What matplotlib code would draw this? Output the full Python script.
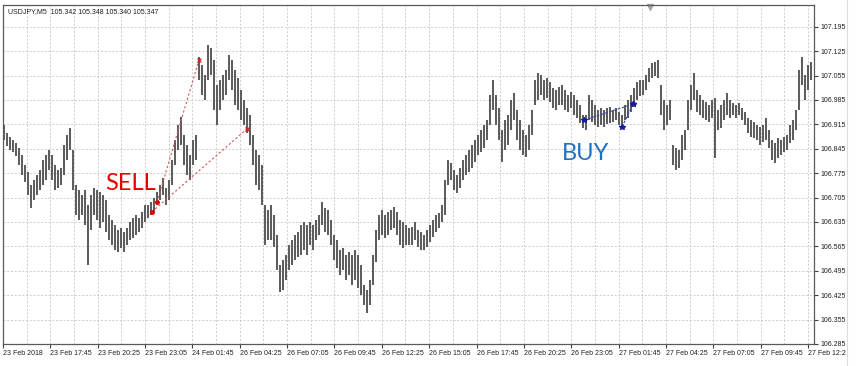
"""USDJPY M5 bar chart with two SELL and two BUY trades marked, MT4 style."""

import matplotlib
matplotlib.use("Agg")
import matplotlib.pyplot as plt
from matplotlib.transforms import Bbox
import numpy as np

# ════════════════════════════════════════════════════════════════════════════
# DATA (one drawn bar per ~10 min)
# ════════════════════════════════════════════════════════════════════════════

highs = [
    106.913, 106.890, 106.879, 106.870, 106.861, 106.847, 106.827, 106.798, 106.778, 106.741,
    106.755, 106.770, 106.784, 106.813, 106.827, 106.841, 106.827, 106.798, 106.784, 106.790,
    106.856, 106.884, 106.905, 106.841, 106.741, 106.727, 106.712, 106.727, 106.684, 106.712,
    106.732, 106.727, 106.721, 106.712, 106.698, 106.655, 106.641, 106.626, 106.612, 106.618,
    106.606, 106.618, 106.635, 106.646, 106.655, 106.646, 106.664, 106.684, 106.684, 106.692,
    106.704, 106.721, 106.741, 106.761, 106.732, 106.755, 106.813, 106.870, 106.913, 106.936,
    106.884, 106.856, 106.827, 106.870, 106.884, 107.108, 107.085, 107.057, 107.143, 107.134,
    107.100, 107.028, 107.042, 107.057, 107.071, 107.114, 107.100, 107.071, 107.048, 107.013,
    106.985, 106.962, 106.942, 106.884, 106.841, 106.827, 106.798, 106.684, 106.669, 106.684,
    106.655, 106.598, 106.512, 106.526, 106.540, 106.569, 106.583, 106.598, 106.606, 106.626,
    106.635, 106.626, 106.635, 106.626, 106.641, 106.655, 106.692, 106.675, 106.669, 106.641,
    106.598, 106.583, 106.555, 106.560, 106.540, 106.549, 106.540, 106.555, 106.540, 106.512,
    106.454, 106.440, 106.469, 106.540, 106.612, 106.655, 106.669, 106.655, 106.664, 106.669,
    106.678, 106.664, 106.641, 106.635, 106.626, 106.618, 106.621, 106.635, 106.612, 106.606,
    106.598, 106.612, 106.626, 106.641, 106.655, 106.661, 106.684, 106.755, 106.813, 106.804,
    106.784, 106.770, 106.790, 106.813, 106.827, 106.841, 106.856, 106.870, 106.884, 106.899,
    106.913, 106.927, 106.999, 107.042, 106.999, 106.962, 106.899, 106.927, 106.942, 106.985,
    107.005, 106.956, 106.927, 106.899, 106.884, 106.913, 106.956, 107.042, 107.062, 107.057,
    107.042, 107.048, 107.036, 107.019, 107.013, 107.022, 107.028, 107.013, 106.999, 107.008,
    106.999, 106.985, 106.970, 106.942, 106.942, 106.999, 106.985, 106.970, 106.956, 106.962,
    106.956, 106.962, 106.965, 106.956, 106.962, 106.950, 106.942, 106.970, 106.985, 106.999,
    107.019, 107.036, 107.042, 107.042, 107.057, 107.077, 107.091, 107.094, 107.100, 107.028,
    106.985, 106.970, 106.985, 106.856, 106.847, 106.841, 106.884, 106.899, 106.985, 107.028,
    107.062, 107.013, 106.999, 106.985, 106.979, 106.970, 106.985, 106.991, 106.956, 106.970,
    106.985, 107.005, 106.985, 106.976, 106.970, 106.976, 106.962, 106.950, 106.933, 106.927,
    106.922, 106.913, 106.907, 106.913, 106.933, 106.899, 106.870, 106.861, 106.876, 106.870,
    106.879, 106.884, 106.913, 106.927, 106.956, 107.071, 107.108, 107.057, 107.085, 107.094,
]

lows = [
    106.870, 106.853, 106.841, 106.836, 106.824, 106.798, 106.770, 106.750, 106.712, 106.675,
    106.698, 106.712, 106.727, 106.741, 106.755, 106.784, 106.755, 106.727, 106.732, 106.741,
    106.770, 106.813, 106.841, 106.727, 106.655, 106.641, 106.655, 106.626, 106.512, 106.612,
    106.655, 106.641, 106.618, 106.635, 106.606, 106.583, 106.569, 106.555, 106.549, 106.560,
    106.549, 106.569, 106.583, 106.589, 106.598, 106.606, 106.618, 106.635, 106.646, 106.655,
    106.664, 106.684, 106.698, 106.712, 106.684, 106.698, 106.741, 106.798, 106.841, 106.856,
    106.798, 106.770, 106.755, 106.798, 106.813, 107.042, 106.999, 106.985, 107.042, 107.057,
    106.956, 106.913, 106.956, 106.985, 106.999, 107.042, 107.013, 106.970, 106.956, 106.927,
    106.913, 106.890, 106.856, 106.798, 106.741, 106.727, 106.684, 106.569, 106.583, 106.583,
    106.563, 106.497, 106.434, 106.440, 106.469, 106.497, 106.512, 106.526, 106.535, 106.540,
    106.555, 106.540, 106.569, 106.555, 106.583, 106.598, 106.626, 106.606, 106.598, 106.569,
    106.526, 106.503, 106.483, 106.497, 106.469, 106.483, 106.454, 106.469, 106.446, 106.426,
    106.397, 106.374, 106.397, 106.454, 106.520, 106.583, 106.598, 106.589, 106.598, 106.612,
    106.618, 106.598, 106.569, 106.560, 106.569, 106.569, 106.569, 106.583, 106.563, 106.555,
    106.555, 106.563, 106.578, 106.592, 106.606, 106.618, 106.635, 106.655, 106.741, 106.755,
    106.727, 106.718, 106.732, 106.755, 106.770, 106.778, 106.790, 106.807, 106.827, 106.836,
    106.847, 106.870, 106.913, 106.956, 106.913, 106.870, 106.807, 106.841, 106.856, 106.899,
    106.927, 106.870, 106.841, 106.827, 106.821, 106.841, 106.884, 106.970, 106.985, 106.999,
    106.985, 106.991, 106.979, 106.962, 106.956, 106.970, 106.970, 106.956, 106.950, 106.962,
    106.942, 106.933, 106.919, 106.905, 106.899, 106.927, 106.922, 106.913, 106.907, 106.913,
    106.907, 106.916, 106.919, 106.922, 106.927, 106.913, 106.907, 106.927, 106.933, 106.950,
    106.970, 106.985, 106.996, 106.999, 107.013, 107.036, 107.048, 107.054, 107.048, 106.942,
    106.899, 106.913, 106.927, 106.798, 106.784, 106.790, 106.813, 106.841, 106.899, 106.956,
    106.985, 106.950, 106.942, 106.933, 106.927, 106.922, 106.933, 106.818, 106.899, 106.905,
    106.927, 106.942, 106.933, 106.942, 106.933, 106.942, 106.927, 106.913, 106.890, 106.879,
    106.876, 106.870, 106.856, 106.864, 106.870, 106.847, 106.813, 106.804, 106.818, 106.827,
    106.836, 106.841, 106.861, 106.870, 106.899, 106.956, 107.028, 106.985, 107.013, 107.042,
]

# trades: (bar index, price) of open and close
sell_open_idx = [49.3, 51.0]
sell_open_px = [106.664, 106.692]
sell_close_idx = [81.0, 65.0]
sell_close_px = [106.902, 107.100]

buy_open_idx = [193.3, 206.0]
buy_open_px = [106.927, 106.907]
buy_close_idx = [209.7, 209.7]
buy_close_px = [106.973, 106.973]

x_labels = [
    "23 Feb 2018", "23 Feb 17:45", "23 Feb 20:25", "23 Feb 23:05", "24 Feb 01:45",
    "26 Feb 04:25", "26 Feb 07:05", "26 Feb 09:45", "26 Feb 12:25", "26 Feb 15:05",
    "26 Feb 17:45", "26 Feb 20:25", "26 Feb 23:05", "27 Feb 01:45", "27 Feb 04:25",
    "27 Feb 07:05", "27 Feb 09:45", "27 Feb 12:25",
]
y_ticks = [106.285 + 0.07 * k for k in range(14)]

header = "USDJPY,M5  105.342 105.348 105.340 105.347"

# ════════════════════════════════════════════════════════════════════════════
# PLOT
# ════════════════════════════════════════════════════════════════════════════

W, H = 858, 366
fig = plt.figure(figsize=(W / 100, H / 100), dpi=100)
ax = fig.add_axes([3 / W, 22 / H, 811 / W, 339 / H])

idx = np.arange(len(highs))
ax.set_xlim(-1 / 3, len(highs))
ax.set_ylim(106.285, 107.2573)

# grid (vertical every half label step, horizontal at price ticks)
step = 47.35 / 3.0          # drawn bars between labelled ticks
grid_col = "#c8c8c8"
for m in range(1, 35):
    ax.axvline(m * step / 2 - 1 / 3, color=grid_col, lw=0.6, ls=(0, (2.5, 2)), zorder=0)
for yv in y_ticks[1:]:
    ax.axhline(yv, color=grid_col, lw=0.6, ls=(0, (2.5, 2)), zorder=0)

# bars
ax.vlines(idx, lows, highs, color="#5e5e5e", lw=1.45, zorder=2)

# trade lines and markers
sell_col = "#c85a5a"
for xo, po, xc, pc in zip(sell_open_idx, sell_open_px, sell_close_idx, sell_close_px):
    ax.plot([xo, xc], [po, pc], color=sell_col, lw=0.8, ls=(0, (2, 2)), zorder=3)
ax.plot(sell_open_idx, sell_open_px, "o", color="#e00000", ms=2.5, zorder=4)
ax.plot(sell_close_idx, sell_close_px, "x", color="#d02020", ms=3, mew=0.9, zorder=4)

buy_col = "#3346b8"
for xo, po, xc, pc in zip(buy_open_idx, buy_open_px, buy_close_idx, buy_close_px):
    ax.plot([xo, xc], [po, pc], color=buy_col, lw=0.8, ls=(0, (2.5, 1.5)), zorder=3)
ax.plot(buy_open_idx, buy_open_px, "*", color="#1a1a9c", ms=4, zorder=4)
ax.plot(buy_close_idx, buy_close_px, "*", color="#1a1a9c", ms=4, zorder=4)

# labels on the chart
ax.text(42.3, 106.744, "SELL", color="#e60000", fontsize=17, family="Lato",
        ha="center", va="center", zorder=5)
ax.text(193.7, 106.832, "BUY", color="#1f72c2", fontsize=17, family="Lato",
        ha="center", va="center", zorder=5)
ax.text(5 / 811, 1 - 7 / 339, header, transform=ax.transAxes, fontsize=5.0,
        family="Liberation Sans", color="#202020", va="center", ha="left")

# shift marker at top
ax.plot([(650 - 3) / 811], [1 - 2 / 339], marker="v", ms=4, color="#a8a8a8",
        transform=ax.transAxes, clip_on=False)

# axes
ax.yaxis.tick_right()
ax.set_yticks(y_ticks, [f"{v:.3f}" for v in y_ticks])
xt = [k * step - 1 / 3 for k in range(len(x_labels))]
ax.set_xticks(xt, x_labels)
for lab in ax.get_xticklabels():
    lab.set_horizontalalignment("left")
ax.tick_params(axis="both", direction="out", length=3, width=0.8, color="#404040",
               labelsize=5.0, labelcolor="#202020", pad=1.5)
for lab in ax.get_xticklabels() + ax.get_yticklabels():
    lab.set_family("Liberation Sans")
for sp in ax.spines.values():
    sp.set_color("#5a5a5a")
    sp.set_linewidth(0.9)

# window edge: last label is cut there
last = ax.get_xticklabels()[-1]
last.set_clip_box(Bbox([[0, 0], [846, H]]))
last.set_clip_on(True)
fig.add_artist(plt.Line2D([846.5 / W, 846.5 / W], [0, 1], color="#dcdcdc", lw=0.8))

fig.savefig("out.png", dpi=100)
plt.close()
